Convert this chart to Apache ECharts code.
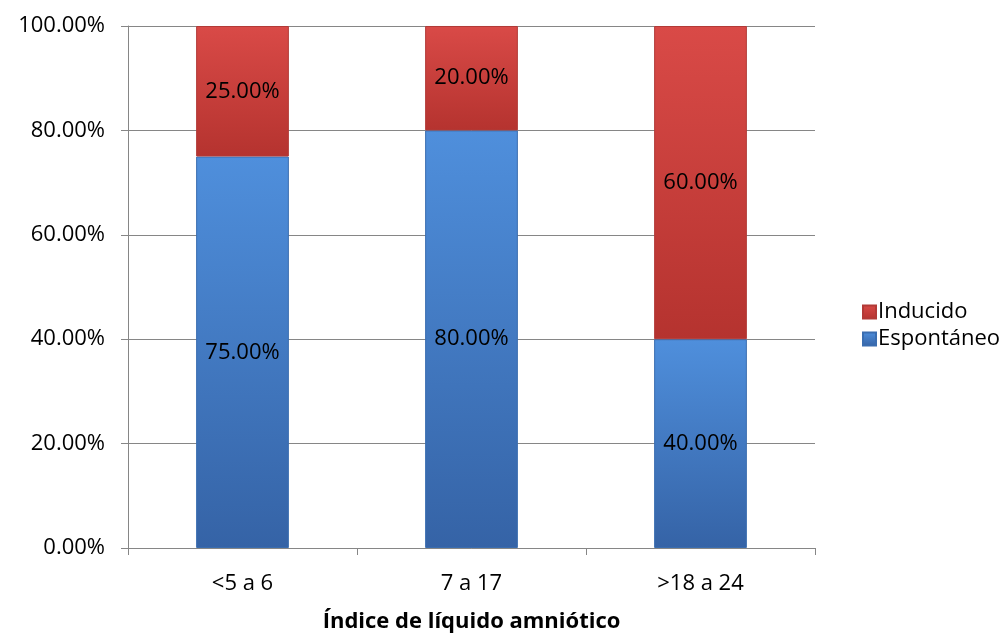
<!DOCTYPE html>
<html><head><meta charset="utf-8">
<script src="https://cdn.jsdelivr.net/npm/echarts@6/dist/echarts.min.js"></script>
<style>html,body{margin:0;padding:0;background:#fff}#c{width:1008px;height:636px}</style>
</head><body><div id="c"></div>
<script>
const categories = ['<5 a 6', '7 a 17', '>18 a 24'];
const espontaneo = [75, 80, 40];
const inducido = [25, 20, 60];
const yTicks = [0, 20, 40, 60, 80, 100];
const FONT = 'Open Sans';
const FS = 22;
const chart = echarts.init(document.getElementById('c'));
function grad(top, bottom){
  return new echarts.graphic.LinearGradient(0,0,0,1,[{offset:0,color:top},{offset:1,color:bottom}]);
}
const lbl = {show:true, position:'inside', color:'#000', fontSize:FS, fontFamily:FONT,
  formatter: p => p.value.toFixed(2) + '%'};
chart.setOption({
  animation:false,
  textStyle:{fontFamily:FONT},
  grid:{left:128, right:193, top:26, bottom:88, containLabel:false, outerBoundsMode:'none'},
  legend:{
    orient:'vertical', left:857, top:296, itemWidth:13, itemHeight:13, itemGap:5, icon:'rect',
    textStyle:{fontSize:FS, color:'#000', fontFamily:FONT, padding:[0,0,0,-3]},
    data:['Inducido','Espontáneo']
  },
  xAxis:{
    type:'category', data:categories,
    name:'Índice de líquido amniótico', nameLocation:'middle', nameGap:63,
    nameTextStyle:{fontSize:FS, fontWeight:'bold', color:'#000', fontFamily:FONT},
    axisLine:{lineStyle:{color:'#868686'}},
    axisTick:{show:true, length:7, lineStyle:{color:'#868686'}},
    axisLabel:{fontSize:FS, color:'#000', margin:25, fontFamily:FONT}
  },
  yAxis:{
    type:'value', min:0, max:100, interval:20,
    axisLine:{show:true, lineStyle:{color:'#868686'}},
    axisTick:{show:true, length:7, lineStyle:{color:'#868686'}},
    splitLine:{lineStyle:{color:'#868686'}},
    axisLabel:{fontSize:FS, color:'#000', margin:23, fontFamily:FONT,
      formatter: v => yTicks.includes(v) ? v.toFixed(2) + '%' : ''}
  },
  series:[
    {name:'Espontáneo', type:'bar', stack:'a', data:espontaneo, barWidth:'40.5%',
      itemStyle:{color:grad('#4f8fdc','#3563a6'), borderColor:'#3a6db0', borderWidth:1}, label:lbl},
    {name:'Inducido', type:'bar', stack:'a', data:inducido, barWidth:'40.5%',
      itemStyle:{color:grad('#d94a47','#b5332f'), borderColor:'#b23a37', borderWidth:1}, label:lbl}
  ]
});
</script></body></html>
